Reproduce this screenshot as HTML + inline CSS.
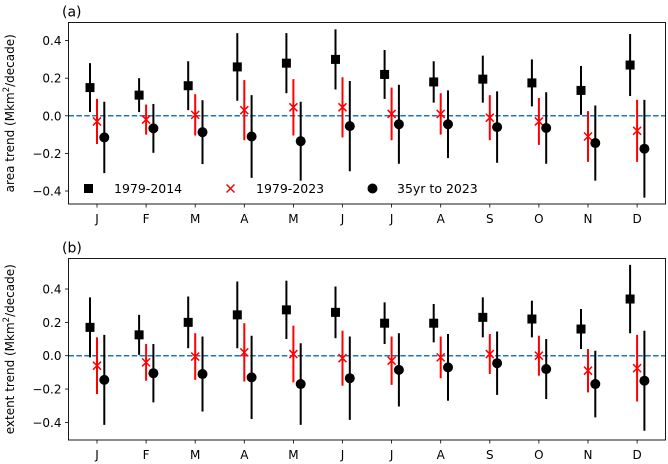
<!DOCTYPE html>
<html><head><meta charset="utf-8"><style>
html,body{margin:0;padding:0;background:#fff;}
svg{display:block;font-family:"DejaVu Sans","Liberation Sans",sans-serif;}
</style></head><body>
<svg id="chart" width="668" height="464" viewBox="0 0 668 464" xmlns="http://www.w3.org/2000/svg"></svg>
<script>
const months = ["J","F","M","A","M","J","J","A","S","O","N","D"];
const yTicks = [0.4,0.2,0.0,-0.2,-0.4];
const yTickLabels = ["0.4","0.2","0.0","−0.2","−0.4"];
// panel (a) area trend
const areaSq = [0.15,0.11,0.16,0.26,0.28,0.30,0.22,0.18,0.195,0.175,0.135,0.27];
const areaSqErr = [0.13,0.09,0.13,0.18,0.16,0.16,0.13,0.11,0.125,0.125,0.13,0.165];
const areaX = [-0.03,-0.02,0.005,0.03,0.045,0.045,0.01,0.01,-0.01,-0.03,-0.11,-0.08];
const areaXErr = [0.12,0.08,0.11,0.16,0.15,0.16,0.14,0.11,0.12,0.125,0.135,0.165];
const areaC = [-0.115,-0.067,-0.087,-0.11,-0.135,-0.055,-0.045,-0.045,-0.06,-0.065,-0.145,-0.175];
const areaCErr = [0.19,0.13,0.17,0.22,0.21,0.24,0.21,0.18,0.19,0.19,0.2,0.26];
// panel (b) extent trend
const extSq = [0.17,0.125,0.2,0.245,0.275,0.26,0.195,0.195,0.23,0.22,0.16,0.34];
const extSqErr = [0.18,0.12,0.155,0.2,0.175,0.155,0.125,0.115,0.12,0.11,0.12,0.205];
const extX = [-0.06,-0.04,-0.005,0.02,0.01,-0.015,-0.03,-0.01,0.01,0.0,-0.09,-0.075];
const extXErr = [0.17,0.11,0.14,0.175,0.17,0.165,0.145,0.125,0.12,0.12,0.13,0.2];
const extC = [-0.145,-0.105,-0.11,-0.13,-0.17,-0.135,-0.085,-0.07,-0.045,-0.08,-0.17,-0.15];
const extCErr = [0.27,0.175,0.225,0.25,0.245,0.25,0.22,0.2,0.19,0.18,0.2,0.3];

const svg = document.getElementById('chart');
const NS = "http://www.w3.org/2000/svg";
function mk(tag, attrs, parent){
  const e = document.createElementNS(NS, tag);
  for (const k in attrs) e.setAttribute(k, attrs[k]);
  (parent||svg).appendChild(e);
  return e;
}
const X0 = 68.5, X1 = 665.5;
function xPos(i){ return 97 + 49.1*i; }

function panel(cfg){
  const y = v => cfg.zeroY - v*cfg.pxPerUnit;
  const g = mk('g', {});
  
  
  // zero line
  const zl = mk('line', {x1:X0, x2:X1, y1:y(0), y2:y(0), stroke:'#1f77b4', 'stroke-width':1.5, 'stroke-dasharray':'5.5,2.4'}, g);
  
  
  // y ticks
  yTicks.forEach((t,k)=>{
    const tl = mk('line', {x1:X0-3.5, x2:X0, y1:y(t), y2:y(t), stroke:'#000', 'stroke-width':0.8}, g);
    
    
    const tx = mk('text', {x:X0-7, y:y(t)+4.5, 'text-anchor':'end', 'font-size':12, fill:'#000'}, g);
    tx.textContent = yTickLabels[k];
    
    
  });
  // x ticks
  months.forEach((m,i)=>{
    const tl = mk('line', {x1:xPos(i), x2:xPos(i), y1:cfg.bottom, y2:cfg.bottom+3.5, stroke:'#000', 'stroke-width':0.8}, g);
    
    
    const tx = mk('text', {x:xPos(i), y:cfg.bottom+19, 'text-anchor':'middle', 'font-size':12, fill:'#000'}, g);
    tx.textContent = m;
    
    
  });
  // series
  months.forEach((m,i)=>{
    // square
    let cx = xPos(i)-7;
    let e = mk('line', {x1:cx, x2:cx, y1:y(cfg.sq[i]+cfg.sqErr[i]), y2:y(cfg.sq[i]-cfg.sqErr[i]), stroke:'#000', 'stroke-width':2}, g);
    
    
    e = mk('rect', {x:cx-4.5, y:y(cfg.sq[i])-4.5, width:9, height:9, fill:'#000'}, g);
    
    
    // x marker
    cx = xPos(i);
    e = mk('line', {x1:cx, x2:cx, y1:y(cfg.x[i]+cfg.xErr[i]), y2:y(cfg.x[i]-cfg.xErr[i]), stroke:'#f00', 'stroke-width':2}, g);
    
    
    const yy = y(cfg.x[i]);
    e = mk('path', {d:`M${cx-4},${yy-4}L${cx+4},${yy+4}M${cx-4},${yy+4}L${cx+4},${yy-4}`, stroke:'#f00', 'stroke-width':1.5, fill:'none'}, g);
    
    
    // circle
    cx = xPos(i)+7.3;
    e = mk('line', {x1:cx, x2:cx, y1:y(cfg.c[i]+cfg.cErr[i]), y2:y(cfg.c[i]-cfg.cErr[i]), stroke:'#000', 'stroke-width':2}, g);
    
    
    e = mk('circle', {cx:cx, cy:y(cfg.c[i]), r:5, fill:'#000'}, g);
    
    
  });
  // frame
  const fr = mk('rect', {x:X0, y:cfg.top, width:X1-X0, height:cfg.bottom-cfg.top, fill:'none', stroke:'#000', 'stroke-width':0.9}, g);
  
  
  // y label
  const yl = mk('text', {x:0, y:0, 'text-anchor':'middle', 'font-size':12, fill:'#000', transform:`translate(14,${(cfg.top+cfg.bottom)/2}) rotate(-90)`}, g);
  yl.innerHTML = cfg.ylabel + ' (Mkm<tspan dy="-5" font-size="8.5">2</tspan><tspan dy="5">/decade)</tspan>';
  
  
  // panel label
  const pl = mk('text', {x:62, y:cfg.top-6, 'font-size':14, fill:'#000'}, g);
  pl.textContent = cfg.label;
  
  
  return y;
}

panel({name:'panel-a-area', top:22.5, bottom:204, zeroY:115.8, pxPerUnit:188, sq:areaSq, sqErr:areaSqErr, x:areaX, xErr:areaXErr, c:areaC, cErr:areaCErr, ylabel:'area trend', label:'(a)'});
panel({name:'panel-b-extent', top:258.5, bottom:440, zeroY:355.7, pxPerUnit:166.7, sq:extSq, sqErr:extSqErr, x:extX, xErr:extXErr, c:extC, cErr:extCErr, ylabel:'extent trend', label:'(b)'});

// legend
const lg = mk('g', {});


let le = mk('rect', {x:84, y:184, width:9, height:9, fill:'#000'}, lg);


le = mk('text', {x:114, y:193, 'font-size':12.5, fill:'#000'}, lg);
le.textContent = '1979-2014';


le = mk('path', {d:'M226.5,184.5L234.5,192.5M226.5,192.5L234.5,184.5', stroke:'#f00', 'stroke-width':1.5}, lg);


le = mk('text', {x:256, y:193, 'font-size':12.5, fill:'#000'}, lg);
le.textContent = '1979-2023';


le = mk('circle', {cx:372.5, cy:188.5, r:5, fill:'#000'}, lg);


le = mk('text', {x:397, y:193, 'font-size':12.5, fill:'#000'}, lg);
le.textContent = '35yr to 2023';


</script>
</body></html>
